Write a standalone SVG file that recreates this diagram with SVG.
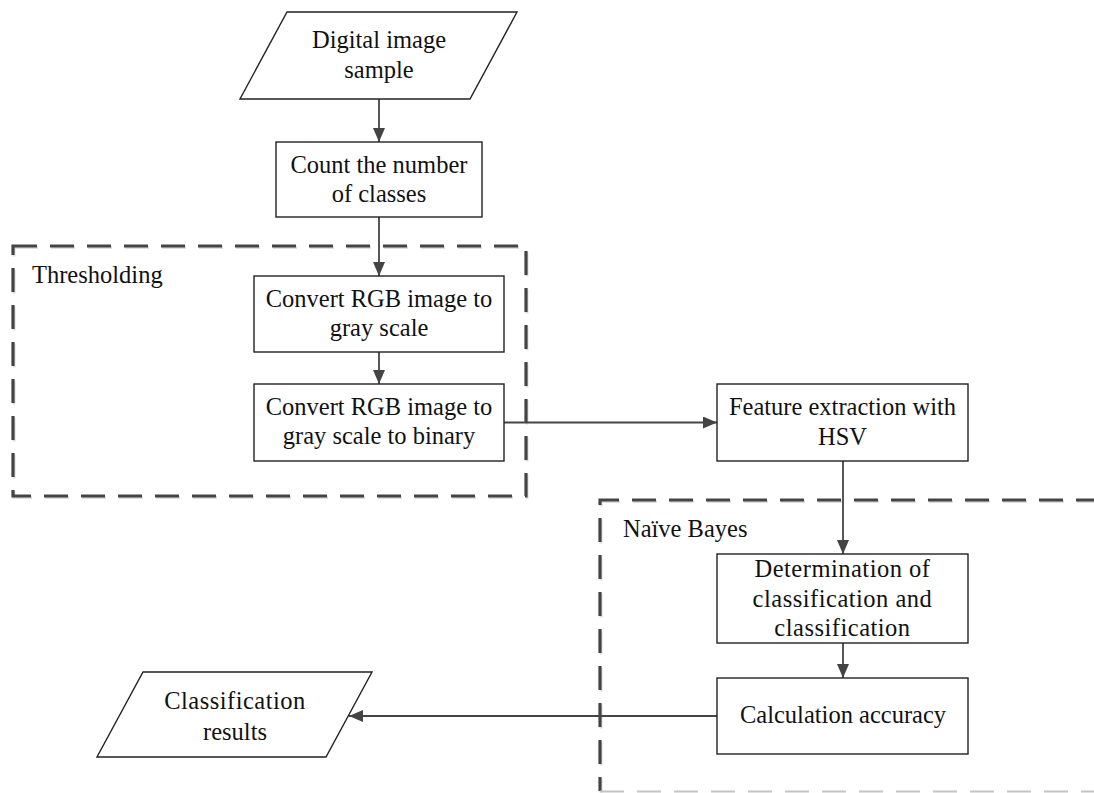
<svg xmlns="http://www.w3.org/2000/svg" width="1094" height="793" viewBox="0 0 1094 793">
<style>
.node{fill:#fff;stroke:#222;stroke-width:1.4}
.t{font-family:"Liberation Serif","Times New Roman",serif;font-size:24.5px;fill:#111;text-anchor:middle}
.tl{font-family:"Liberation Serif","Times New Roman",serif;font-size:24.5px;fill:#111}
.conn{fill:none;stroke:#444;stroke-width:1.8}
.dash{fill:none;stroke:#444;stroke-width:3.2;stroke-dasharray:24 13}
.dashsh{fill:none;stroke:#dedede;stroke-width:3;stroke-dasharray:24 13}
</style>
<defs>
<marker id="ah" markerUnits="userSpaceOnUse" markerWidth="16" markerHeight="14" refX="14" refY="6" orient="auto">
<path d="M0,0 L14,6 L0,12 z" fill="#444"/>
</marker>
</defs>
<rect width="1094" height="793" fill="#fff"/>
<g id="group-thresholding">
<path class="dashsh" d="M13,246 H526 V496 H13 Z" transform="translate(1,1.5)"/>
<path class="dash" d="M13,246 H526 V496 H13 Z"/>
<text class="tl" x="32" y="283">Thresholding</text>
</g>
<g id="group-naive-bayes">
<path class="dashsh" d="M1100,500 H600 V791" transform="translate(1,1.5)"/>
<path class="dash" d="M1100,500 H600 V791"/>
<line x1="600" y1="791.5" x2="1094" y2="791.5" stroke="#c4c4c4" stroke-width="2" stroke-dasharray="24 13"/>
<text class="tl" x="623" y="537">Naïve Bayes</text>
</g>
<g id="connectors">
<line class="conn" x1="379" y1="99" x2="379" y2="142" marker-end="url(#ah)"/>
<line class="conn" x1="379" y1="217" x2="379" y2="276" marker-end="url(#ah)"/>
<line class="conn" x1="379" y1="352" x2="379" y2="384" marker-end="url(#ah)"/>
<line class="conn" x1="504" y1="422.5" x2="717" y2="422.5" marker-end="url(#ah)"/>
<line class="conn" x1="843" y1="461" x2="843" y2="554" marker-end="url(#ah)"/>
<line class="conn" x1="843" y1="643" x2="843" y2="678" marker-end="url(#ah)"/>
<line class="conn" x1="717" y1="716" x2="349" y2="716" marker-end="url(#ah)"/>
</g>
<g id="node-digital-image-sample">
<polygon class="node" points="287,12 517,12 470,99 240,99"/>
<text class="t" x="379" y="48">Digital image</text>
<text class="t" x="379" y="78">sample</text>
</g>
<g id="node-count-classes">
<rect class="node" x="276" y="142" width="206" height="75"/>
<text class="t" x="379" y="173">Count the number</text>
<text class="t" x="379" y="202">of classes</text>
</g>
<g id="node-convert-gray">
<rect class="node" x="254" y="276" width="250" height="76"/>
<text class="t" x="379" y="307">Convert RGB image to</text>
<text class="t" x="379" y="336">gray scale</text>
</g>
<g id="node-convert-binary">
<rect class="node" x="254" y="384" width="250" height="77"/>
<text class="t" x="379" y="415">Convert RGB image to</text>
<text class="t" x="379" y="444">gray scale to binary</text>
</g>
<g id="node-feature-extraction">
<rect class="node" x="717" y="384" width="251" height="77"/>
<text class="t" x="842.5" y="415">Feature extraction with</text>
<text class="t" x="842.5" y="445">HSV</text>
</g>
<g id="node-determination">
<rect class="node" x="717" y="554" width="251" height="89"/>
<text class="t" x="842.5" y="577" letter-spacing="0.5">Determination of</text>
<text class="t" x="842.5" y="607" letter-spacing="0.5">classification and</text>
<text class="t" x="842.5" y="636" letter-spacing="0.5">classification</text>
</g>
<g id="node-calculation-accuracy">
<rect class="node" x="717" y="678" width="251" height="76"/>
<text class="t" x="843" y="723">Calculation accuracy</text>
</g>
<g id="node-classification-results">
<polygon class="node" points="143,672 372,672 326,757 97,757"/>
<text class="t" x="235" y="709" letter-spacing="0.5">Classification</text>
<text class="t" x="235" y="740">results</text>
</g>
</svg>
